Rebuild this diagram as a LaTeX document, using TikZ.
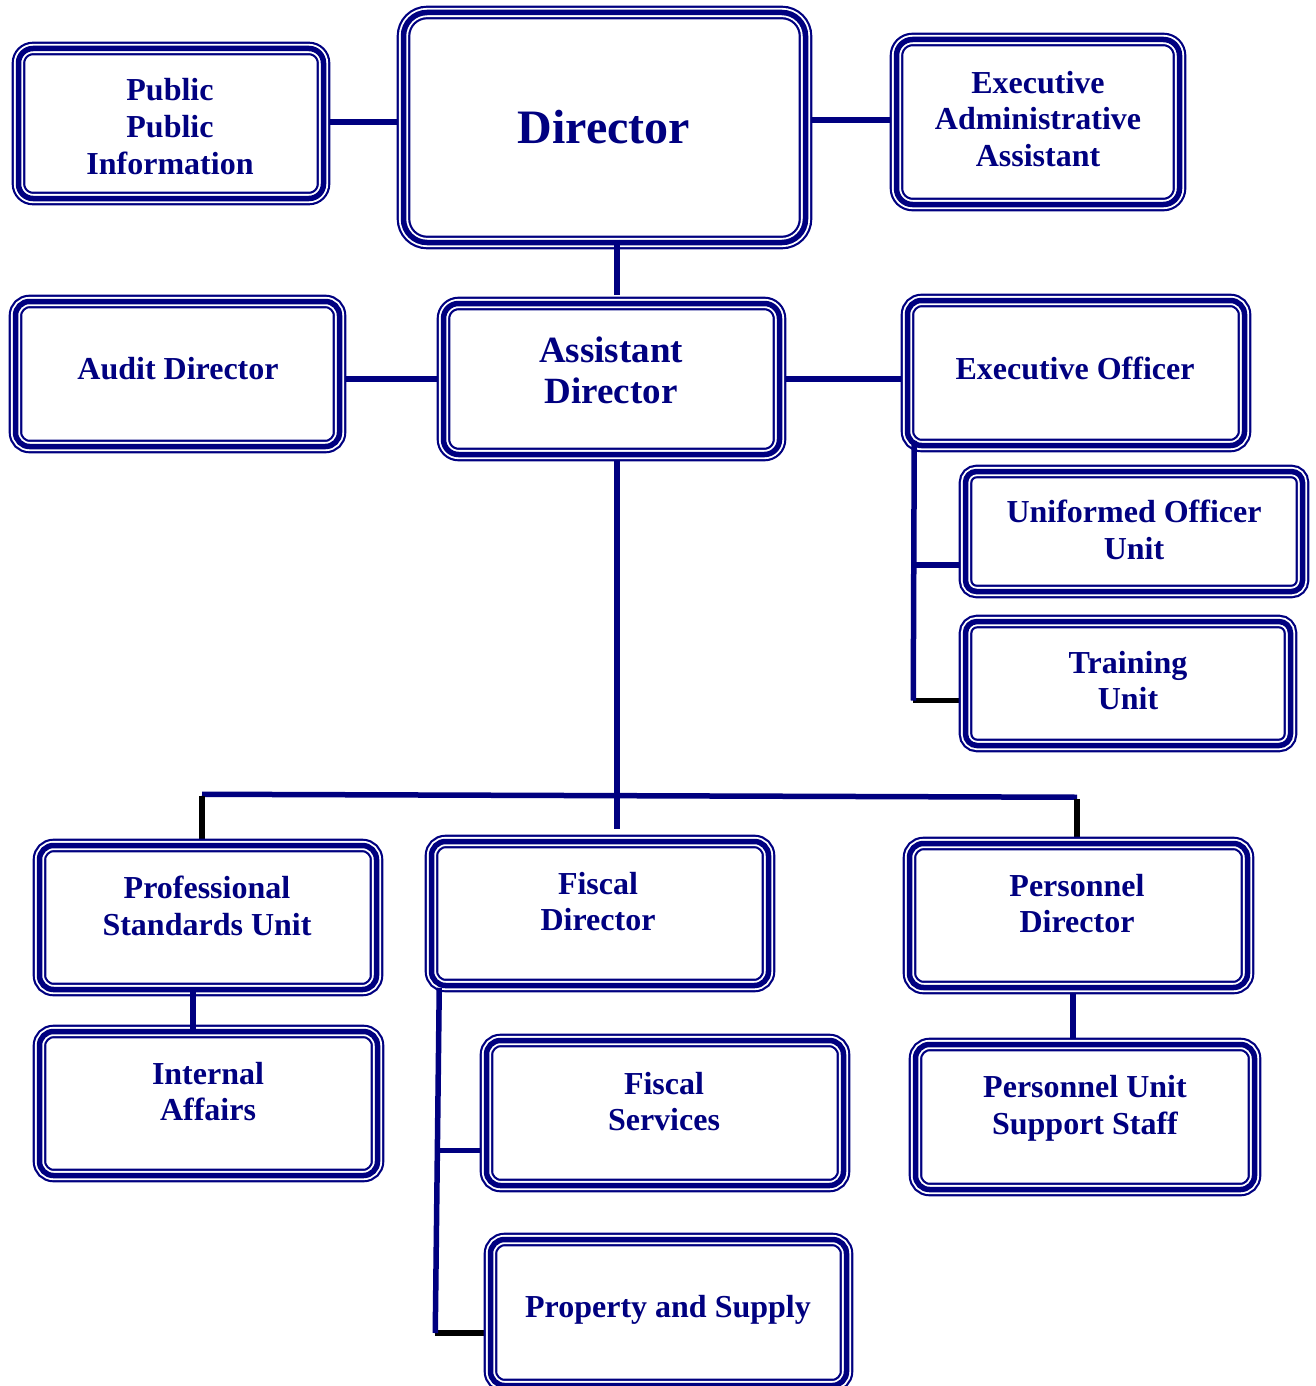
\documentclass[tikz,border=0pt]{standalone}
\usepackage{fontspec}
\setmainfont{Liberation Serif}
\usetikzlibrary{calc}
\definecolor{navyc}{RGB}{0,0,128}
\pgfdeclarelayer{paper}
\pgfdeclarelayer{bg}
\pgfsetlayers{paper,bg,main}
\begin{document}
\begin{tikzpicture}[x=1pt,y=-1pt,
  orgbox/.style={rectangle, rounded corners=#1, draw=navyc, line width=5.5pt, inner sep=0pt,
    preaction={draw=navyc, line width=2.2pt, double=white, double distance=9.2pt}},
  orgbox/.default=14pt,
  txt/.style={align=center, text=navyc, inner sep=0pt, font=\bfseries\fontsize{32}{36.7}\selectfont},
  conn/.style={draw=navyc, line width=5.5pt},
  connk/.style={draw=black, line width=5.5pt}]
\begin{pgfonlayer}{paper}
\fill[white] (0,0) rectangle (1315,1386);
\end{pgfonlayer}
\useasboundingbox (0,0) rectangle (1315,1386);

% boxes
\node[orgbox=14.5pt, minimum width=305pt, minimum height=150pt] (pub) at (171,123.5) {};
\node[orgbox=23.5pt, minimum width=402pt, minimum height=230pt] (dir) at (604.5,127.5) {};
\node[orgbox=16pt, minimum width=283pt, minimum height=165pt] (exa) at (1038,122) {};
\node[orgbox, minimum width=324pt, minimum height=145pt] (aud) at (177.5,374) {};
\node[orgbox=15pt, minimum width=336pt, minimum height=151pt] (asd) at (611.5,379) {};
\node[orgbox, minimum width=337pt, minimum height=145pt] (exo) at (1076,373) {};
\node[orgbox=11pt, minimum width=337pt, minimum height=120pt] (uni) at (1134,531.5) {};
\node[orgbox=11.5pt, minimum width=325pt, minimum height=124pt] (trn) at (1128,683.5) {};
\node[orgbox, minimum width=337pt, minimum height=144pt] (psu) at (208,917.5) {};
\node[orgbox, minimum width=337pt, minimum height=144pt] (fid) at (600,913.5) {};
\node[orgbox, minimum width=338pt, minimum height=144pt] (ped) at (1078.5,915.5) {};
\node[orgbox, minimum width=338pt, minimum height=144pt] (ina) at (208.5,1103.5) {};
\node[orgbox, minimum width=357pt, minimum height=145pt] (fis) at (665,1113) {};
\node[orgbox, minimum width=339pt, minimum height=145pt] (pus) at (1085,1117) {};
\node[orgbox, minimum width=356pt, minimum height=146pt] (pas) at (668.5,1312.5) {};

% texts
\node[txt] (pub-t) at (170,126.5) {Public\\Public\\Information};
\node[txt, font=\bfseries\fontsize{48}{56}\selectfont] (dir-t) at (604,127) {Director};
\node[txt] (exa-t) at (1038,119) {Executive\\Administrative\\Assistant};
\node[txt] (aud-t) at (178,369) {Audit Director};
\node[txt, font=\bfseries\fontsize{37}{41}\selectfont] (asd-t) at (611,370) {Assistant\\Director};
\node[txt] (exo-t) at (1075,368) {Executive Officer};
\node[txt] (uni-t) at (1134,530) {Uniformed Officer\\Unit};
\node[txt] (trn-t) at (1128,680.5) {Training\\Unit};
\node[txt] (psu-t) at (207,906) {Professional\\Standards Unit};
\node[txt] (fid-t) at (598,901.5) {Fiscal\\Director};
\node[txt] (ped-t) at (1077,903.5) {Personnel\\Director};
\node[txt] (ina-t) at (208,1091.5) {Internal\\Affairs};
\node[txt] (fis-t) at (664,1101.5) {Fiscal\\Services};
\node[txt] (pus-t) at (1085,1108) {Personnel Unit\\Support Staff};
\node[txt] (pas-t) at (668,1309.5) {Property and Supply};

% helper coordinates
\coordinate (busL) at ($(psu.north)+(-6,-48.5)$);
\coordinate (busR) at ($(ped.north)+(-1.5,-43.5)$);
\coordinate (eoT) at ($(exo.south west)+(9.5,-7.5)$);
\coordinate (eoB) at ($(trn.west)+(-49.5,17)$);
\coordinate (eoU) at ($(uni.west)+(-49.5,33.5)$);
\coordinate (fdT) at ($(fid.south west)+(10.5,-0.5)$);
\coordinate (fdB) at ($(pas.west)+(-52.5,20.5)$);
\coordinate (fdS) at ($(fis.west)+(-46,37.5)$);

% connectors behind boxes
\begin{pgfonlayer}{bg}
\draw[conn] ($(pub.east)+(0,-1.5)$) -- ($(dir.west)+(0,-5.5)$);
\draw[conn] ($(dir.east)+(0,-7.5)$) -- ($(exa.west)+(0,-2)$);
\draw[conn] ($(aud.east)+(0,5)$) -- (asd.west);
\draw[conn] (asd.east) -- ($(exo.west)+(0,6)$);
\draw[conn] ($(asd.south)+(5.5,0)$) -- ($(fid.north)+(17,-9.5)$);
\draw[conn] (busL) -- (busR);
\draw[connk] ($(busL)+(0,2)$) -- (busL |- psu.north);
\draw[connk] ($(busR)+(0,2)$) -- (busR |- ped.north);
\draw[conn] ($(ped.south)+(-5.5,0)$) -- ($(pus.north)+(-12,0)$);
\draw[conn] (eoU) -- ($(uni.west)+(0,33.5)$);
\draw[connk] (eoB) -- ($(trn.west)+(0,17)$);
\draw[conn] (fdS) -- ($(fis.west)+(0,37.5)$);
\draw[connk] (fdB) -- ($(pas.west)+(0,20.5)$);
\end{pgfonlayer}

% connectors over boxes
\draw[conn] ($(dir.south)+(12.5,-5.5)$) -- ($(asd.north)+(5.5,-6)$);
\draw[conn] (eoT) -- (eoB);
\draw[conn] (fdT) -- (fdB);
\draw[conn] ($(psu.south)+(-15,-5)$) -- ($(ina.north)+(-15.5,2.5)$);
\end{tikzpicture}
\end{document}
